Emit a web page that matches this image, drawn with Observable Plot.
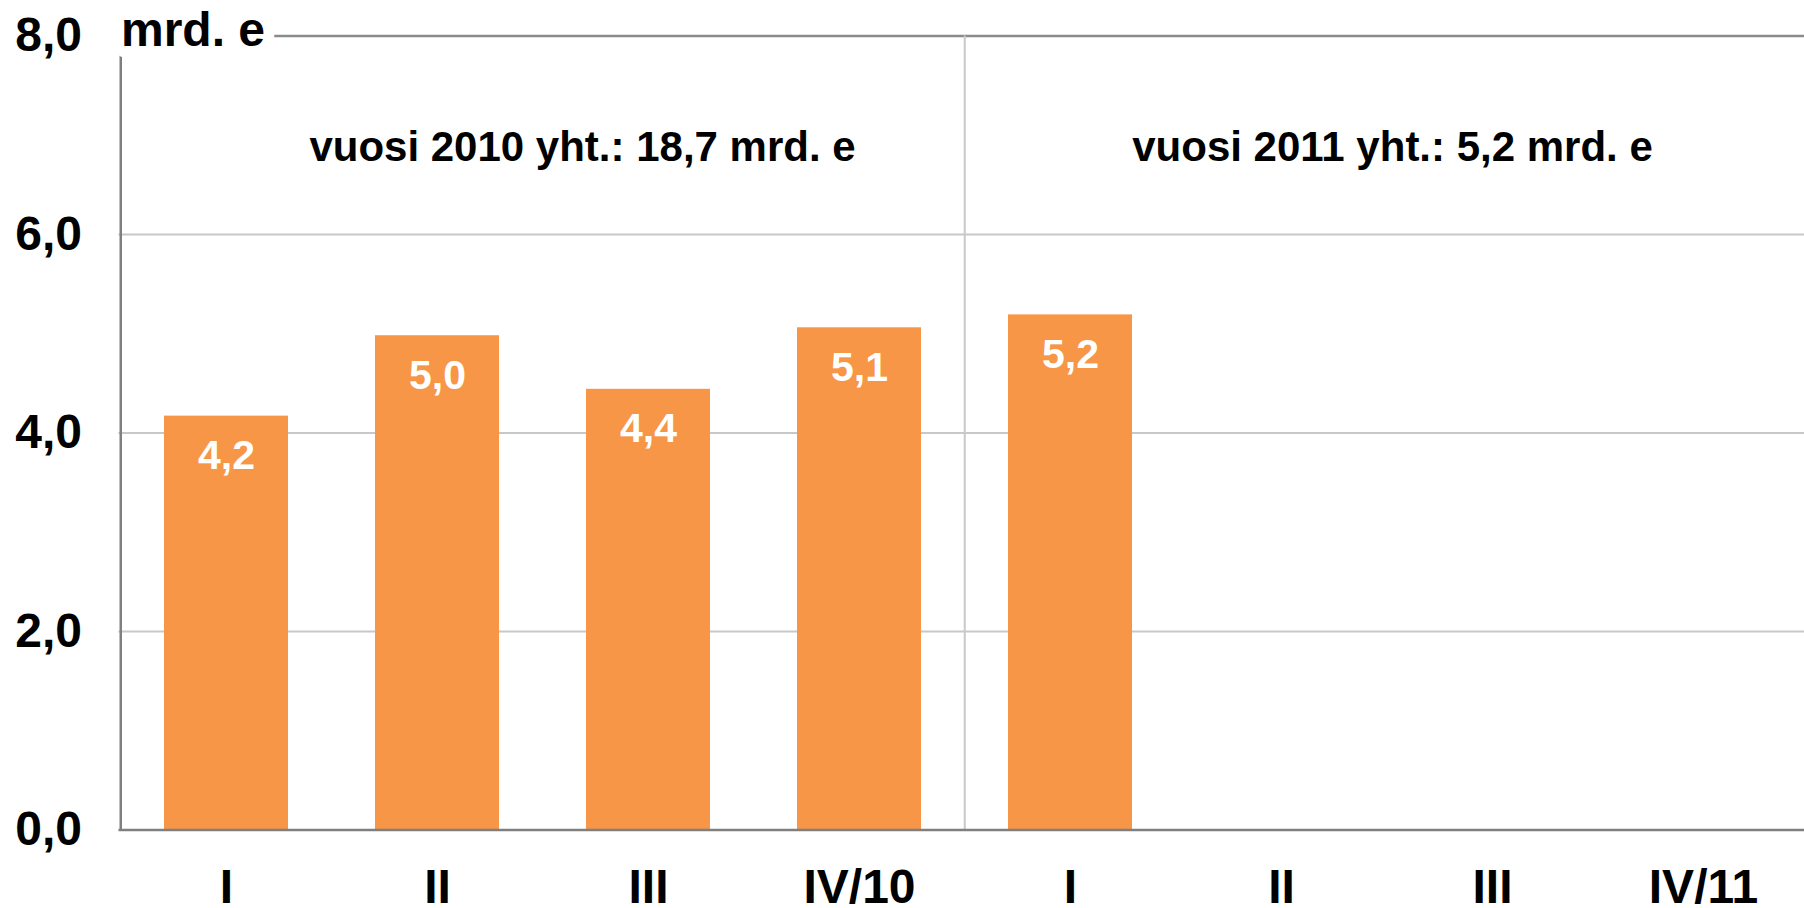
<!DOCTYPE html>
<html>
<head>
<meta charset="utf-8">
<script src="https://cdn.jsdelivr.net/npm/d3@7"></script>
<script src="https://cdn.jsdelivr.net/npm/@observablehq/plot@0.6"></script>
<style>
  html, body { margin: 0; padding: 0; background: #fff; overflow: hidden; }
  #chart svg { display: block; }
</style>
</head>
<body>
<div id="chart"></div>
<script>
// ---- data ----
const keys = ["I-10", "II-10", "III-10", "IV-10", "I-11", "II-11", "III-11", "IV-11"];
const tickLabels = ["I", "II", "III", "IV/10", "I", "II", "III", "IV/11"];
const values = [4.17, 4.98, 4.44, 5.06, 5.19, null, null, null];
const yTicks = [0, 2, 4, 6, 8];
const gridTicks = [2, 4, 6];
const topTick = [8];
const unitLabel = "mrd. e";
const yearNotes = ["vuosi 2010 yht.: 18,7 mrd. e", "vuosi 2011 yht.: 5,2 mrd. e"];
const noteKeys = ["II-10", "II-11"];
const yearBoundary = ["I-11"];

// ---- layout ----
const W = 1804, H = 908;
const mL = 118.5, mR = -6.5, mT = 35.5, mB = 78.5;
const step = (W - mL - mR) / keys.length;

const rows = keys.map((k, i) => ({key: k, value: values[i]})).filter(d => d.value != null);
const fmt = v => v.toFixed(1).replace(".", ",");
const labelOf = k => tickLabels[keys.indexOf(k)];

const plot = Plot.plot({
  width: W,
  height: H,
  marginLeft: mL,
  marginRight: mR,
  marginTop: mT,
  marginBottom: mB,
  style: {fontFamily: "'Liberation Sans', Arial, sans-serif", fontWeight: "bold", fontSize: "48px", background: "#fff", overflow: "visible"},
  x: {domain: keys, paddingInner: 0.41, paddingOuter: 0.205, axis: null},
  y: {domain: [0, 8], axis: null},
  marks: [
    Plot.ruleY(gridTicks, {stroke: "#c8c8c8", strokeWidth: 2}),
    Plot.ruleY(topTick, {stroke: "#8a8a8a", strokeWidth: 2.5}),
    Plot.ruleX(yearBoundary, {x: d => d, y1: 0, y2: 8, dx: -step / 2, stroke: "#c8c8c8", strokeWidth: 2}),
    Plot.barY(rows, {x: "key", y: "value", fill: "#F79646"}),
    Plot.text(rows, {x: "key", y: "value", text: d => fmt(d.value), dy: 40, lineAnchor: "middle", fill: "white", fontSize: 41}),
    Plot.ruleY([0], {stroke: "#7f7f7f", strokeWidth: 2.5}),
    Plot.ruleX([keys[0]], {x: d => d, y1: 0, y2: 8, dx: -step / 2, stroke: "#7f7f7f", strokeWidth: 2.5}),
    Plot.axisY({ticks: yTicks, tickSize: 0, tickPadding: 37, tickFormat: fmt, label: null, fontSize: 48, fontWeight: "bold", fill: "black"}),
    Plot.axisX({tickSize: 0, tickPadding: 39, tickFormat: labelOf, label: null, fontSize: 48, fontWeight: "bold", fill: "black"}),
    Plot.text([yearNotes[0]], {x: () => noteKeys[0], frameAnchor: "top", dx: 145, dy: 111.5, lineAnchor: "middle", fontSize: 42, fill: "black"}),
    Plot.text([yearNotes[1]], {x: () => noteKeys[1], frameAnchor: "top", dx: 111, dy: 111.5, lineAnchor: "middle", fontSize: 42, fill: "black"}),
    Plot.text([unitLabel], {frameAnchor: "top-left", textAnchor: "start", lineAnchor: "middle", dx: 2, dy: -5, fontSize: 48, fill: "black", stroke: "white", strokeWidth: 22, strokeLinejoin: "round", paintOrder: "stroke"})
  ]
});
document.getElementById("chart").appendChild(plot);
</script>
</body>
</html>
